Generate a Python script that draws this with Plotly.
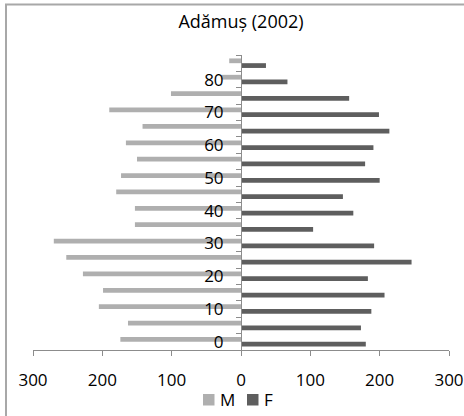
import plotly.graph_objects as go

ages = [0, 5, 10, 15, 20, 25, 30, 35, 40, 45, 50, 55, 60, 65, 70, 75, 80, 85]
male = [174, 163, 205, 199, 228, 252, 270, 153, 153, 180, 173, 150, 166, 142, 190, 101, 28, 17]
female = [180, 173, 188, 207, 183, 246, 192, 104, 162, 147, 200, 179, 191, 214, 199, 156, 67, 36]
y_labels = [0, 10, 20, 30, 40, 50, 60, 70, 80]
x_ticks = [-300, -200, -100, 0, 100, 200, 300]
series_names = ["M", "F"]

M_COLOR = "#AFAFAF"
F_COLOR = "#5E5E5E"
AX = "#8C8C8C"
FONT = "Open Sans"

bw = 1.45
fig = go.Figure()
fig.add_trace(go.Bar(y=ages, x=[-v for v in male], orientation="h", name=series_names[0],
                     marker=dict(color=M_COLOR, line=dict(width=0)),
                     width=bw, offset=0, showlegend=False))
fig.add_trace(go.Bar(y=ages, x=female, orientation="h", name=series_names[1],
                     marker=dict(color=F_COLOR, line=dict(width=0)),
                     width=bw, offset=-bw, showlegend=False))

W, H = 464, 416
L, R, T, B = 33, 15, 55, 66
pw, ph = W - L - R, H - T - B

def px_x(p):
    return (p - L) / pw

def px_y(p):
    return (H - B - p) / ph

# manual legend (square + label) placed like the reference
shapes = [
    dict(type="line", xref="paper", yref="paper",
         x0=px_x(6), x1=px_x(6), y0=px_y(4.5), y1=px_y(416),
         line=dict(color="#A8A8A8", width=2), layer="below"),
    dict(type="line", xref="paper", yref="paper",
         x0=px_x(5), x1=px_x(464), y0=px_y(4.5), y1=px_y(4.5),
         line=dict(color="#A8A8A8", width=2), layer="below"),
]
annotations = []
leg_items = [(series_names[0], M_COLOR, 203), (series_names[1], F_COLOR, 247)]
for name, col, x0 in leg_items:
    shapes.append(dict(type="rect", xref="paper", yref="paper",
                       x0=px_x(x0), x1=px_x(x0 + 11.5), y0=px_y(405.5), y1=px_y(394),
                       line=dict(width=0), fillcolor=col))
    annotations.append(dict(text=name, xref="paper", yref="paper", x=px_x(x0 + 15),
                            y=px_y(399.5), xanchor="left", yanchor="middle", showarrow=False,
                            font=dict(family=FONT, size=17, color="#000000")))

fig.update_layout(
    width=W, height=H,
    margin=dict(l=L, r=R, t=T, b=B, autoexpand=False),
    paper_bgcolor="white", plot_bgcolor="white",
    barmode="overlay",
    font=dict(family=FONT, size=17, color="#000000"),
    title=dict(text="Adămuș (2002)", x=0.5, xref="paper", xanchor="center",
               y=1 - 22 / H, yref="container", yanchor="middle",
               font=dict(family=FONT, size=18, color="#000000")),
    showlegend=False,
    xaxis=dict(range=[-300, 300], tickvals=x_ticks, ticktext=[str(abs(v)) for v in x_ticks],
               showgrid=False, zeroline=False, showline=True, linecolor=AX, linewidth=1,
               ticks="outside", ticklen=5, tickcolor=AX, tickwidth=1, fixedrange=True,
               ticklabeloverflow="allow", automargin=False, ticklabelstandoff=10),
    yaxis=dict(range=[-2.5, 87.5], tickvals=y_labels, ticktext=[str(v) for v in y_labels],
               anchor="free", position=0.5, showgrid=False, zeroline=False, automargin=False,
               showline=True, linecolor=AX, linewidth=1, ticks="", ticklabelstandoff=14,
               minor=dict(tickmode="array", tickvals=[a - 2.5 for a in ages] + [87.5],
                          ticks="outside", ticklen=5, tickcolor=AX, tickwidth=1, showgrid=False)),
    shapes=shapes,
    annotations=annotations,
)

fig.write_html("out.html")
